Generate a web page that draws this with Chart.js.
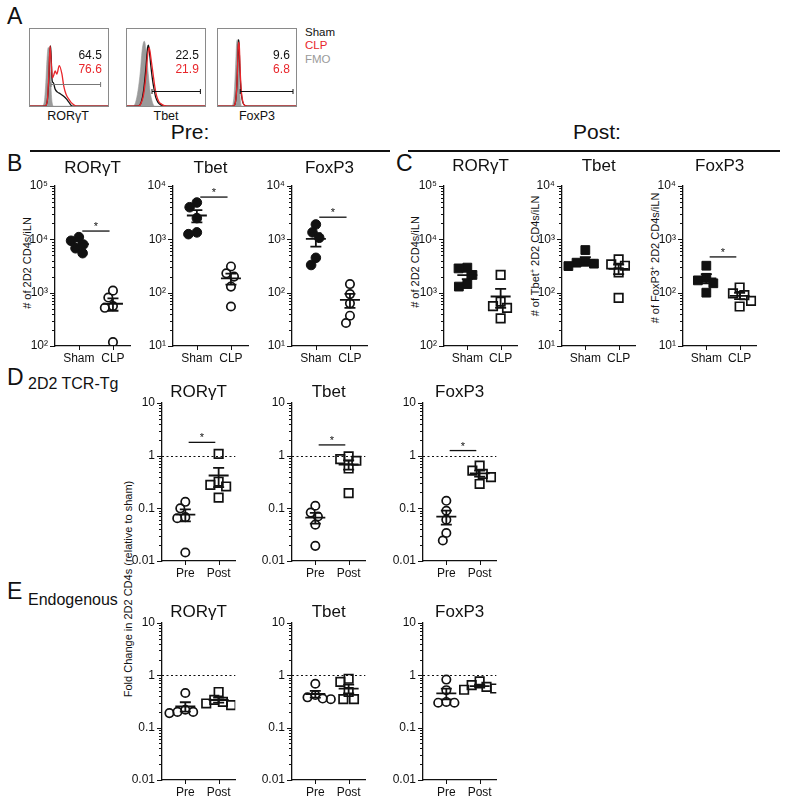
<!DOCTYPE html>
<html>
<head>
<meta charset="utf-8">
<script src="https://cdn.jsdelivr.net/npm/chart.js@4.4.0/dist/chart.umd.min.js"></script>
<style>
  html, body { margin: 0; padding: 0; background: #fff; }
  #fig { position: relative; width: 785px; height: 796px; overflow: hidden;
         font-family: 'Liberation Sans', Arial, sans-serif; color: #111; }
  #fig canvas { position: absolute; }
  .t { position: absolute; white-space: nowrap; line-height: 1; }
  .c { transform: translate(-50%, -50%); }
  .l { transform: translateY(-50%); }
  .v { transform: translate(-50%, -50%) rotate(-90deg); font-size: 11px; }
  .n { font-family: 'Liberation Sans Narrow', 'Arial Narrow', 'Liberation Sans', Arial, sans-serif; }
  .rule { position: absolute; height: 1.5px; background: #111; }
  sup { font-size: 7px; vertical-align: 4px; }
</style>
</head>
<body>
<div id="fig">
  <div class="t l" style="left:7px;top:16px;font-size:23px">A</div>
  <div class="t l" style="left:305px;top:33px;font-size:11.5px">Sham</div>
  <div class="t l" style="left:305px;top:46px;font-size:11.5px;color:#e8262b">CLP</div>
  <div class="t l" style="left:305px;top:60px;font-size:11.5px;color:#9a9a9a">FMO</div>
  <div class="t c n" style="left:68px;top:116px;font-size:12.5px">RORγT</div>
  <div class="t c n" style="left:166px;top:116px;font-size:12.5px">Tbet</div>
  <div class="t c n" style="left:257px;top:116px;font-size:12.5px">FoxP3</div>

  <div class="t c" style="left:190px;top:131px;font-size:21px">Pre:</div>
  <div class="t c" style="left:597px;top:131px;font-size:21px">Post:</div>
  <div class="rule" style="left:30px;width:360px;top:150px"></div>
  <div class="rule" style="left:408px;width:372px;top:150px"></div>

  <div class="t l" style="left:7px;top:163px;font-size:23px">B</div>
  <div class="t l" style="left:396px;top:163px;font-size:23px">C</div>
  <div class="t l" style="left:7px;top:377px;font-size:23px">D</div>
  <div class="t l" style="left:7px;top:591px;font-size:23px">E</div>
  <div class="t l" style="left:28px;top:384px;font-size:16px">2D2 TCR-Tg</div>
  <div class="t l" style="left:28px;top:600px;font-size:16px">Endogenous</div>

  <div class="t v" style="left:27px;top:263px"># of 2D2 CD4s/iLN</div>
  <div class="t v" style="left:415px;top:262px"># of 2D2 CD4s/iLN</div>
  <div class="t v" style="left:535px;top:256px"># of Tbet<sup>+</sup> 2D2 CD4s/iLN</div>
  <div class="t v" style="left:655px;top:258px"># of FoxP3<sup>+</sup> 2D2 CD4s/iLN</div>
  <div class="t v" style="left:128px;top:589px">Fold Change in 2D2 CD4s (relative to sham)</div>
</div>

<script>
// ── A：流式直方圖（每條曲線取自圖上，x / y 皆為框內百分比） ──────────
const histNames = ['RORγT', 'Tbet', 'FoxP3'];
const pctSham = ['64.5', '22.5', '9.6'];
const pctClp = ['76.6', '21.9', '6.8'];
const gateFrom = [27.5, 32.5, 29];
const gateTo = [89.5, 93, 95];
const gateAt = [29, 20, 20];

const rorFmoX = [0, 16, 19, 21, 22.5, 24, 25.5, 27, 28, 29, 31, 100];
const rorFmoY = [0, 0, 5, 30, 60, 75, 70, 40, 15, 4, 0, 0];
const rorShamX = [0, 20, 23, 25, 26, 27, 28, 29, 30.5, 32.6, 35.6, 39, 43, 47, 50, 54, 100];
const rorShamY = [0, 0, 8, 40, 70, 77, 55, 32, 30, 22, 18, 16, 13, 9, 5, 0, 0];
const rorClpX = [0, 20, 23, 25, 26.3, 27.5, 29.3, 31, 32.7, 34.8, 37.8, 41.2, 43.4, 46.4, 49.8, 52.8, 57, 60.4, 100];
const rorClpY = [0, 0, 8, 45, 77, 60, 36, 40, 45, 41, 52, 41, 26, 15, 9, 4.6, 1.2, 0, 0];

const tbetFmoX = [0, 9, 12, 15, 18, 20, 22, 23, 25, 27, 30, 33, 36, 100];
const tbetFmoY = [0, 0, 5, 20, 45, 70, 82, 83, 72, 50, 20, 5, 0, 0];
const tbetShamX = [0, 15, 19, 22, 25, 27, 28, 29, 31, 33, 35, 37, 40, 43, 46, 50, 100];
const tbetShamY = [0, 0, 5, 20, 50, 75, 78, 72, 52, 35, 22, 12, 5, 2, 1, 0, 0];
const tbetClpX = [0, 15, 19, 22, 25, 27, 29, 30, 32, 34, 36, 38, 41, 44, 47, 52, 100];
const tbetClpY = [0, 0, 4, 15, 40, 65, 75, 70, 55, 40, 25, 14, 6, 3, 1, 0, 0];

const foxFmoX = [0, 18, 21, 23, 24.5, 25.5, 26.5, 27.5, 29, 31, 100];
const foxFmoY = [0, 0, 10, 45, 80, 85, 75, 40, 10, 0, 0];
const foxShamX = [0, 20, 23, 25, 26.5, 27, 27.5, 28.5, 30, 32, 35, 40, 100];
const foxShamY = [0, 0, 5, 30, 75, 85, 80, 50, 20, 6, 1, 0, 0];
const foxClpX = [0, 20, 23, 25, 26.5, 27.2, 28, 29, 30.5, 32.5, 35, 40, 100];
const foxClpY = [0, 0, 5, 30, 75, 82, 75, 45, 18, 5, 1, 0, 0];

// ── B–E：點圖 ────────────────────────────────────────────
const groupsShamClp = ['Sham', 'CLP'];
const groupsPrePost = ['Pre', 'Post'];
const countTicks = { 1: '10¹', 2: '10²', 3: '10³', 4: '10⁴', 5: '10⁵' };
const foldTicks = { '-2': '0.01', '-1': '0.1', '0': '1', '1': '10' };

// B：Pre，# of 2D2 CD4s / iLN
const preRorSham = [11000, 9400, 8000, 6800, 5500];
const preRorClp = [1090, 810, 560, 520, 118];
const preTbetSham = [4900, 4000, 2500, 1350, 1250];
const preTbetClp = [310, 230, 200, 130, 55];
const preFoxSham = [1900, 1350, 1070, 450, 330];
const preFoxClp = [145, 94, 63, 37, 27];
const preSig = [14300, 6200, 2600];

// C：Post
const postRorSham = [2950, 2850, 2150, 1450, 1300];
const postRorClp = [2150, 680, 560, 520, 330];
const postTbetSham = [630, 380, 365, 350, 315];
const postTbetClp = [420, 340, 320, 240, 80];
const postFoxSham = [320, 190, 170, 150, 100];
const postFoxClp = [125, 97, 90, 70, 55];
const postSig = [null, null, 468];

// D：2D2 TCR-Tg，fold change (relative to sham)
const tgRorPre = [0.133, 0.1, 0.068, 0.065, 0.0145];
const tgRorPost = [1.08, 0.32, 0.28, 0.26, 0.16];
const tgTbetPre = [0.112, 0.083, 0.07, 0.049, 0.0194];
const tgTbetPost = [0.97, 0.86, 0.8, 0.57, 0.195];
const tgFoxPre = [0.139, 0.09, 0.061, 0.034, 0.0245];
const tgFoxPost = [0.65, 0.52, 0.45, 0.39, 0.29];
const tgSig = [1.79, 1.6, 1.25];

// E：Endogenous
const endoRorPre = [0.46, 0.22, 0.2, 0.2, 0.19];
const endoRorPost = [0.48, 0.34, 0.31, 0.29, 0.27];
const endoTbetPre = [0.69, 0.42, 0.38, 0.36, 0.35];
const endoTbetPost = [0.86, 0.75, 0.48, 0.35, 0.35];
const endoFoxPre = [0.83, 0.52, 0.31, 0.3, 0.3];
const endoFoxPost = [0.77, 0.65, 0.6, 0.56, 0.53];

// ── 版面常數 ───────────────────────────────────────────
const INK = '#111';
const RED = '#e8262b';
const NARROW = "'Liberation Sans Narrow', 'Arial Narrow', 'Liberation Sans', Arial, sans-serif";
const AX_W = 36, AX_H = 22, PAD_T = 28, PAD_R = 6;
const X_MIN = 0.3, X_MAX = 2.5, PX_UNIT = 34;
const fig = document.getElementById('fig');

const shapes = {
  dot:   { pointStyle: 'circle', pointRadius: 4.8, backgroundColor: INK, borderColor: INK, borderWidth: 1, d: 8.6 },
  ring:  { pointStyle: 'circle', pointRadius: 4.2, backgroundColor: 'rgba(0,0,0,0)', borderColor: INK, borderWidth: 1.7, d: 8.3 },
  block: { pointStyle: 'rect', pointRadius: 6.2, backgroundColor: INK, borderColor: INK, borderWidth: 1, d: 9 },
  box:   { pointStyle: 'rect', pointRadius: 6, backgroundColor: 'rgba(0,0,0,0)', borderColor: INK, borderWidth: 1.7, d: 9 }
};

const panels = [
  { left: 55,  top: 186, bottom: 346, gap: 18, title: 'RORγT', groups: groupsShamClp, vals: [preRorSham, preRorClp], min: 1e2, max: 1e5, labels: countTicks, shapes: ['dot', 'ring'], sig: preSig[0] },
  { left: 173, top: 186, bottom: 346, gap: 18, title: 'Tbet',  groups: groupsShamClp, vals: [preTbetSham, preTbetClp], min: 1e1, max: 1e4, labels: countTicks, shapes: ['dot', 'ring'], sig: preSig[1] },
  { left: 292, top: 186, bottom: 346, gap: 18, title: 'FoxP3', groups: groupsShamClp, vals: [preFoxSham, preFoxClp], min: 1e1, max: 1e4, labels: countTicks, shapes: ['dot', 'ring'], sig: preSig[2] },
  { left: 444, top: 186, bottom: 346, gap: 20, title: 'RORγT', groups: groupsShamClp, vals: [postRorSham, postRorClp], min: 1e2, max: 1e5, labels: countTicks, shapes: ['block', 'box'], sig: postSig[0] },
  { left: 562, top: 186, bottom: 346, gap: 20, title: 'Tbet',  groups: groupsShamClp, vals: [postTbetSham, postTbetClp], min: 1e1, max: 1e4, labels: countTicks, shapes: ['block', 'box'], sig: postSig[1] },
  { left: 683, top: 186, bottom: 346, gap: 20, title: 'FoxP3', groups: groupsShamClp, vals: [postFoxSham, postFoxClp], min: 1e1, max: 1e4, labels: countTicks, shapes: ['block', 'box'], sig: postSig[2] },
  { left: 162, top: 403, bottom: 561, gap: 11, title: 'RORγT', groups: groupsPrePost, vals: [tgRorPre, tgRorPost], min: 0.01, max: 10, labels: foldTicks, shapes: ['ring', 'box'], sig: tgSig[0], ref: 1 },
  { left: 292, top: 403, bottom: 561, gap: 11, title: 'Tbet',  groups: groupsPrePost, vals: [tgTbetPre, tgTbetPost], min: 0.01, max: 10, labels: foldTicks, shapes: ['ring', 'box'], sig: tgSig[1], ref: 1 },
  { left: 423, top: 403, bottom: 561, gap: 11, title: 'FoxP3', groups: groupsPrePost, vals: [tgFoxPre, tgFoxPost], min: 0.01, max: 10, labels: foldTicks, shapes: ['ring', 'box'], sig: tgSig[2], ref: 1 },
  { left: 162, top: 623, bottom: 780, gap: 11, title: 'RORγT', groups: groupsPrePost, vals: [endoRorPre, endoRorPost], min: 0.01, max: 10, labels: foldTicks, shapes: ['ring', 'box'], sig: null, ref: 1 },
  { left: 292, top: 623, bottom: 780, gap: 11, title: 'Tbet',  groups: groupsPrePost, vals: [endoTbetPre, endoTbetPost], min: 0.01, max: 10, labels: foldTicks, shapes: ['ring', 'box'], sig: null, ref: 1 },
  { left: 423, top: 623, bottom: 780, gap: 11, title: 'FoxP3', groups: groupsPrePost, vals: [endoFoxPre, endoFoxPost], min: 0.01, max: 10, labels: foldTicks, shapes: ['ring', 'box'], sig: null, ref: 1 }
];

// ── 工具 ──────────────────────────────────────────────
const isDecade = v => Math.abs(Math.log10(v) - Math.round(Math.log10(v))) < 1e-9;
const mean = a => a.reduce((s, v) => s + v, 0) / a.length;
const sem = a => {
  const m = mean(a);
  return Math.sqrt(a.reduce((s, v) => s + (v - m) ** 2, 0) / (a.length - 1) / a.length);
};

function logTicks(min, max) {
  const out = [];
  const e0 = Math.round(Math.log10(min)), e1 = Math.round(Math.log10(max));
  for (let e = e0; e < e1; e++) {
    for (let m = 1; m < 10; m++) out.push({ value: +(m * Math.pow(10, e)).toPrecision(6) });
  }
  out.push({ value: max });
  return out;
}

// 簡單的 beeswarm：點重疊時往左右推開（容許少量重疊，像 Prism）
function swarm(vals, pxDec, d) {
  const ys = vals.map(v => Math.log10(v) * pxDec);
  const order = ys.map((_, i) => i).sort((a, b) => ys[b] - ys[a]);
  const xs = [], placed = [];
  order.forEach(i => {
    const cands = [0];
    placed.forEach(j => {
      const dy = Math.abs(ys[i] - ys[j]);
      if (dy < d) {
        const dx = Math.sqrt(d * d - dy * dy);
        cands.push(xs[j] - dx, xs[j] + dx);
      }
    });
    cands.sort((a, b) => Math.abs(a) - Math.abs(b));
    const ok = c => placed.every(j => Math.hypot(c - xs[j], ys[i] - ys[j]) > d - 0.01);
    xs[i] = cands.find(ok) ?? 0;
    placed.push(i);
  });
  return xs;
}

// 刻度、標題、參考線、mean ± SEM、顯著性
const dotDecor = {
  id: 'dotDecor',
  afterDatasetsDraw(chart, args, o) {
    const { ctx, chartArea: a, scales: { x, y } } = chart;
    ctx.save();
    ctx.strokeStyle = INK;
    ctx.fillStyle = INK;
    ctx.lineWidth = 1;
    y.ticks.forEach(t => {
      const py = Math.round(y.getPixelForValue(t.value)) + 0.5;
      ctx.beginPath();
      ctx.moveTo(a.left, py);
      ctx.lineTo(a.left - (isDecade(t.value) ? 5 : 3), py);
      ctx.stroke();
    });
    x.ticks.forEach(t => {
      const px = Math.round(x.getPixelForValue(t.value)) + 0.5;
      ctx.beginPath();
      ctx.moveTo(px, a.bottom);
      ctx.lineTo(px, a.bottom + 4);
      ctx.stroke();
    });

    if (o.ref != null) {
      const py = Math.round(y.getPixelForValue(o.ref)) + 0.5;
      ctx.setLineDash([2, 2.5]);
      ctx.lineWidth = 1.2;
      ctx.beginPath();
      ctx.moveTo(a.left, py);
      ctx.lineTo(a.right, py);
      ctx.stroke();
      ctx.setLineDash([]);
    }

    ctx.lineWidth = 1.8;
    o.vals.forEach((vals, g) => {
      const cx = x.getPixelForValue(g + 1);
      const m = mean(vals), s = sem(vals);
      const pm = y.getPixelForValue(m);
      const hi = y.getPixelForValue(m + s);
      const lo = y.getPixelForValue(Math.max(m - s, y.min));
      ctx.beginPath();
      ctx.moveTo(cx - 10, pm); ctx.lineTo(cx + 10, pm);
      ctx.moveTo(cx, hi); ctx.lineTo(cx, lo);
      ctx.moveTo(cx - 5.5, hi); ctx.lineTo(cx + 5.5, hi);
      ctx.moveTo(cx - 5.5, lo); ctx.lineTo(cx + 5.5, lo);
      ctx.stroke();
    });

    if (o.sig != null) {
      const py = y.getPixelForValue(o.sig);
      const x1 = x.getPixelForValue(1.1), x2 = x.getPixelForValue(1.9);
      ctx.lineWidth = 1.3;
      ctx.beginPath();
      ctx.moveTo(x1, py); ctx.lineTo(x2, py);
      ctx.stroke();
      ctx.font = '11px ' + NARROW;
      ctx.textAlign = 'center';
      ctx.textBaseline = 'alphabetic';
      ctx.fillText('*', (x1 + x2) / 2, py - 1);
    }

    ctx.font = '17px ' + NARROW;
    ctx.textAlign = 'center';
    ctx.textBaseline = 'middle';
    ctx.fillText(o.title, (a.left + a.right) / 2, a.top - o.gap);
    ctx.restore();
  }
};

function dotChart(p) {
  const cv = document.createElement('canvas');
  const areaW = (X_MAX - X_MIN) * PX_UNIT;
  cv.width = Math.round(AX_W + areaW + PAD_R);
  cv.height = PAD_T + (p.bottom - p.top) + AX_H;
  cv.style.left = (p.left - AX_W) + 'px';
  cv.style.top = (p.top - PAD_T) + 'px';
  fig.appendChild(cv);

  const pxDec = (p.bottom - p.top) / Math.log10(p.max / p.min);
  const datasets = p.vals.map((vals, g) => {
    const st = shapes[p.shapes[g]];
    const jit = swarm(vals, pxDec, st.d);
    return {
      data: vals.map((v, i) => ({ x: g + 1 + jit[i] / PX_UNIT, y: v })),
      pointStyle: st.pointStyle,
      pointRadius: st.pointRadius,
      backgroundColor: st.backgroundColor,
      borderColor: st.borderColor,
      borderWidth: st.borderWidth
    };
  });

  new Chart(cv, {
    type: 'scatter',
    data: { datasets },
    options: {
      responsive: false,
      animation: false,
      events: [],
      layout: { padding: { top: PAD_T, right: PAD_R, left: 0, bottom: 0 } },
      plugins: {
        legend: { display: false },
        tooltip: { enabled: false },
        dotDecor: { title: p.title, gap: p.gap, vals: p.vals, sig: p.sig, ref: p.ref }
      },
      scales: {
        x: {
          type: 'linear', min: X_MIN, max: X_MAX,
          afterBuildTicks: s => { s.ticks = [{ value: 1 }, { value: 2 }]; },
          afterFit: s => { s.height = AX_H; },
          grid: { display: false, drawTicks: false },
          border: { color: INK, width: 1.3 },
          ticks: {
            autoSkip: false, maxRotation: 0, padding: 5, color: INK,
            font: { family: NARROW, size: 12 },
            callback: v => p.groups[v - 1]
          }
        },
        y: {
          type: 'logarithmic', min: p.min, max: p.max,
          afterBuildTicks: s => { s.ticks = logTicks(p.min, p.max); },
          afterFit: s => { s.width = AX_W; },
          grid: { display: false, drawTicks: false },
          border: { color: INK, width: 1.3 },
          ticks: {
            autoSkip: false, padding: 7, color: INK,
            font: { family: NARROW, size: 12 },
            callback: v => isDecade(v) ? p.labels[Math.round(Math.log10(v))] : ''
          }
        }
      }
    },
    plugins: [dotDecor]
  });
}

// ── A 的直方圖 ─────────────────────────────────────────
const histDecor = {
  id: 'histDecor',
  afterDatasetsDraw(chart, args, o) {
    const { ctx, chartArea: a, scales: { x, y } } = chart;
    ctx.save();
    ctx.strokeStyle = '#8a8a8a';
    ctx.lineWidth = 1;
    ctx.strokeRect(a.left + 0.5, a.top + 0.5, a.right - a.left - 1, a.bottom - a.top - 1);

    const gy = Math.round(y.getPixelForValue(o.gateAt)) + 0.5;
    const g1 = x.getPixelForValue(o.gateFrom), g2 = x.getPixelForValue(o.gateTo);
    ctx.strokeStyle = o.gateColor;
    ctx.beginPath();
    ctx.moveTo(g1, gy); ctx.lineTo(g2, gy);
    ctx.moveTo(g1, gy - 2.5); ctx.lineTo(g1, gy + 2.5);
    ctx.moveTo(g2, gy - 2.5); ctx.lineTo(g2, gy + 2.5);
    ctx.stroke();

    ctx.font = '12px ' + NARROW;
    ctx.textAlign = 'right';
    ctx.textBaseline = 'middle';
    const tx = x.getPixelForValue(91);
    ctx.fillStyle = INK;
    ctx.fillText(o.sham, tx, y.getPixelForValue(64));
    ctx.fillStyle = RED;
    ctx.fillText(o.clp, tx, y.getPixelForValue(47));
    ctx.restore();
  }
};

const pts = (xs, ys) => xs.map((v, i) => ({ x: v, y: ys[i] }));
const hists = [
  { left: 29,  fmo: pts(rorFmoX, rorFmoY),   sham: pts(rorShamX, rorShamY),   clp: pts(rorClpX, rorClpY),   gateColor: '#777' },
  { left: 126, fmo: pts(tbetFmoX, tbetFmoY), sham: pts(tbetShamX, tbetShamY), clp: pts(tbetClpX, tbetClpY), gateColor: INK },
  { left: 217, fmo: pts(foxFmoX, foxFmoY),   sham: pts(foxShamX, foxShamY),   clp: pts(foxClpX, foxClpY),   gateColor: INK }
];

hists.forEach((h, k) => {
  const cv = document.createElement('canvas');
  cv.width = 80; cv.height = 79;
  cv.style.left = h.left + 'px';
  cv.style.top = '28px';
  fig.appendChild(cv);
  const line = { pointRadius: 0, borderWidth: 1.3, cubicInterpolationMode: 'monotone', fill: false };
  new Chart(cv, {
    type: 'line',
    data: {
      datasets: [
        { label: 'FMO', data: h.fmo, pointRadius: 0, borderWidth: 0.6, borderColor: '#9a9a9a',
          backgroundColor: '#9a9a9a', fill: 'origin', cubicInterpolationMode: 'monotone', order: 2 },
        { label: 'Sham', data: h.sham, borderColor: INK, ...line, order: 1 },
        { label: 'CLP', data: h.clp, borderColor: RED, ...line, order: 0 }
      ]
    },
    options: {
      responsive: false,
      animation: false,
      events: [],
      layout: { padding: 0 },
      plugins: {
        legend: { display: false },
        tooltip: { enabled: false },
        histDecor: { sham: pctSham[k], clp: pctClp[k], gateFrom: gateFrom[k], gateTo: gateTo[k], gateAt: gateAt[k], gateColor: h.gateColor }
      },
      scales: {
        x: { type: 'linear', min: 0, max: 100, display: false },
        y: { type: 'linear', min: -1, max: 100, display: false }
      }
    },
    plugins: [histDecor]
  });
});

panels.forEach(dotChart);
</script>
</body>
</html>
